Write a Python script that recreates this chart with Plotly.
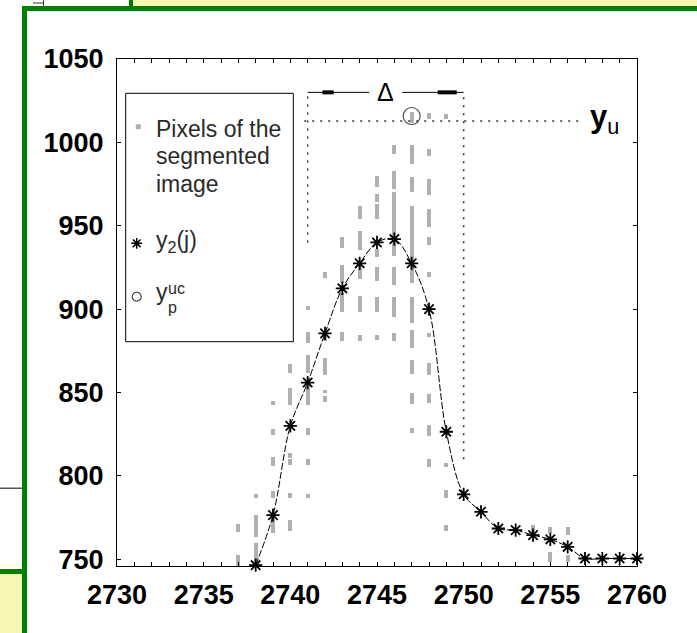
import plotly.graph_objects as go

# ---- data -------------------------------------------------------------
# y2(j): column-wise upper contour estimate
j_cols = [2738, 2739, 2740, 2741, 2742, 2743, 2744, 2745, 2746, 2747, 2748,
          2749, 2750, 2751, 2752, 2753, 2754, 2755, 2756, 2757, 2758, 2759, 2760]
y2_vals = [746.5, 776.5, 830, 856, 885.5, 912.5, 927.5, 940, 942, 927.5, 900,
           826.5, 789, 778.5, 768.5, 767.5, 764.5, 762, 757.5, 750.5, 750.5, 750.5, 750.5]

# segmented-image pixel runs: column, bottom edge, top edge
pix_col = [2737, 2737,
           2738, 2738, 2738,
           2739, 2739, 2739, 2739, 2739,
           2740, 2740, 2740, 2740, 2740, 2740,
           2741, 2741, 2741, 2741, 2741, 2741, 2741,
           2742, 2742, 2742, 2742, 2742,
           2743, 2743, 2743, 2743,
           2744, 2744, 2744, 2744, 2744,
           2745, 2745, 2745, 2745, 2745, 2745, 2745,
           2746, 2746, 2746, 2746, 2746, 2746,
           2747, 2747, 2747, 2747, 2747, 2747, 2747, 2747, 2747,
           2748, 2748, 2748, 2748, 2748, 2748, 2748, 2748, 2748, 2748, 2748,
           2749, 2749, 2749, 2749,
           2754,
           2755, 2755,
           2756, 2756]
pix_lo = [746, 766.5,
          746, 763.5, 786.5,
          765.5, 786.5, 806, 824.5, 842.5,
          767, 786.5, 806.5, 811, 842.5, 862,
          786.5, 806.5, 824.5, 842.5, 861.5, 879.5, 899.5,
          844.5, 849.5, 860.5, 881, 918.5,
          881, 898.5, 915.5, 936.5,
          881, 898.5, 918, 935.5, 954,
          881.5, 898.5, 917, 931, 954, 964.5, 973,
          881, 895.5, 914.5, 932, 972, 993,
          825.5, 843, 861, 876.5, 892, 915.5, 970, 987, 1011.5,
          805.5, 824, 843.5, 860.5, 883.3, 919, 938.5, 949.5, 968.5, 992, 1014,
          767, 786.5, 805.5, 1014,
          765.5,
          748.5, 766,
          748.5, 764.5]
pix_hi = [752.5, 771,
          760, 776.5, 789,
          775.5, 791, 811.5, 828, 845,
          773.5, 790, 810, 814, 852.5, 867,
          789, 810, 829, 857.5, 872.5, 886.5, 902,
          848, 851.5, 870.5, 886, 922.5,
          886.5, 909.5, 926.5, 943,
          884.5, 908, 926.5, 947, 962,
          884.5, 907.5, 925.5, 936, 963, 969, 980,
          885.5, 907.5, 925.5, 970, 983, 998.5,
          829, 849.5, 869.5, 887.5, 907.5, 962, 979, 998.5, 1018.5,
          810, 830.5, 849, 868, 885.7, 922.5, 943, 960, 978, 996, 1017.5,
          770.5, 791.5, 808, 1017,
          770.5,
          754.5, 769.5,
          752.5, 769.5]

# upper-contour point y_p^uc
ypuc_x = [2747]
ypuc_y = [1015.8]

# reference level y_u and the width Delta
yu_level = 1012.8
yu_x = [2740.8, 2756.8]
delta_left, delta_right = 2741, 2750
delta_y = 1030
left_guide_bottom = 940
right_guide_bottom = 810

x_ticks = [2730, 2735, 2740, 2745, 2750, 2755, 2760]
y_ticks = [750, 800, 850, 900, 950, 1000, 1050]

# ---- figure geometry (pixels) ----------------------------------------
W, H = 697, 633
L, R, T, B = 117, 637, 59, 566
GRAY = "#b0b0b0"
GREEN = "#008000"
YELLOW = "#f8f8b4"
FONT = "Liberation Sans, Arial, sans-serif"


def px(x):
    return (x - L) / (R - L)


def py(y):
    return (B - y) / (B - T)


fig = go.Figure()

fig.add_trace(go.Bar(
    x=pix_col,
    y=[h - l for l, h in zip(pix_lo, pix_hi)],
    base=pix_lo,
    width=0.24,
    marker=dict(color=GRAY, line=dict(width=0)),
    hoverinfo="skip",
    showlegend=False,
))

fig.add_trace(go.Scatter(
    x=j_cols, y=y2_vals, mode="lines+markers",
    line=dict(color="black", width=1, dash="7px,2px", shape="spline"),
    marker=dict(symbol="asterisk-open", size=11, color="black",
                line=dict(width=1.8, color="black")),
    cliponaxis=False, showlegend=False,
))

fig.add_trace(go.Scatter(
    x=ypuc_x, y=ypuc_y, mode="markers",
    marker=dict(symbol="circle-open", size=17, color="#444",
                line=dict(width=1.1, color="#444")),
    showlegend=False,
))

# dotted guides and the y_u level
dot = dict(color="#333", width=1.5, dash="2px,6px")
fig.add_trace(go.Scatter(x=yu_x, y=[yu_level, yu_level], mode="lines",
                         line=dot, showlegend=False, hoverinfo="skip"))
fig.add_trace(go.Scatter(x=[delta_left, delta_left], y=[left_guide_bottom, delta_y - 1],
                         mode="lines", line=dot, showlegend=False, hoverinfo="skip"))
fig.add_trace(go.Scatter(x=[delta_right, delta_right], y=[right_guide_bottom, delta_y - 1],
                         mode="lines", line=dot, showlegend=False, hoverinfo="skip"))

# Delta dimension line with arrow marks
delta_mid = (delta_left + delta_right) / 2
shapes = []
for x0, x1 in [(delta_left, delta_mid - 0.95), (delta_mid + 0.95, delta_right)]:
    shapes.append(dict(type="line", xref="x", yref="y", x0=x0, x1=x1,
                       y0=delta_y, y1=delta_y, line=dict(color="black", width=1)))
for x0, x1 in [(delta_left + 0.85, delta_left + 1.5), (delta_right - 1.5, delta_right - 0.4)]:
    shapes.append(dict(type="line", xref="x", yref="y", x0=x0, x1=x1,
                       y0=delta_y, y1=delta_y, line=dict(color="black", width=4)))

# legend box
shapes.append(dict(type="rect", xref="paper", yref="paper", layer="below",
                   x0=px(125.7), x1=px(293.3), y0=py(341.7), y1=py(93.3),
                   line=dict(color="black", width=1), fillcolor="white"))


# page frame around the figure
def prect(x0, y0, x1, y1, color):
    return dict(type="rect", xref="paper", yref="paper", layer="above",
                x0=px(x0), x1=px(x1), y0=py(y1), y1=py(y0),
                line=dict(width=0), fillcolor=color)


shapes += [
    prect(133, 0, 697, 6, YELLOW),
    prect(22, 6, 697, 11, GREEN),
    prect(129, 0, 133, 11, GREEN),
    prect(22, 6, 27, 633, GREEN),
    prect(0, 574, 22, 633, YELLOW),
    prect(0, 569, 22, 574, GREEN),
    prect(0, 564.5, 22, 565.5, YELLOW),
    prect(0, 487.5, 22, 489, "#555"),
    prect(33, 2.5, 43, 3.5, "#333"),
    prect(43, 0, 44, 6, "#333"),
]

# legend glyphs on a pixel-space overlay
fig.add_trace(go.Scatter(x=[138.3], y=[126.7], xaxis="x2", yaxis="y2", mode="markers",
                         marker=dict(symbol="square", size=5, color=GRAY),
                         showlegend=False, hoverinfo="skip"))
fig.add_trace(go.Scatter(x=[136.7], y=[243.3], xaxis="x2", yaxis="y2", mode="markers",
                         marker=dict(symbol="asterisk-open", size=9, color="black",
                                     line=dict(width=1.5, color="black")),
                         showlegend=False, hoverinfo="skip"))
fig.add_trace(go.Scatter(x=[136.7], y=[296.7], xaxis="x2", yaxis="y2", mode="markers",
                         marker=dict(symbol="circle-open", size=9, color="#333",
                                     line=dict(width=1.1, color="#333")),
                         showlegend=False, hoverinfo="skip"))


def note(x, y, text, size=23, color="#2a2a2a", xanchor="left"):
    return dict(xref="paper", yref="paper", x=px(x), y=py(y), text=text,
                showarrow=False, xanchor=xanchor, yanchor="middle",
                font=dict(family=FONT, size=size, color=color))


annotations = [
    note(154, 129, "Pixels of the"),
    note(154, 156, "segmented"),
    note(154, 184, "image"),
    note(154, 242, "y<sub>2</sub>(j)"),
    note(154, 292, "y"),
    note(166, 288, "uc", size=16),
    note(166, 307, "p", size=16),
    dict(xref="x", yref="y", x=delta_mid, y=delta_y + 0.5, text="Δ", showarrow=False,
         xanchor="center", yanchor="middle",
         font=dict(family=FONT, size=25, color="black")),
    dict(xref="x", yref="y", x=2757.2, y=yu_level + 1.5, text="<b>y</b><sub>u</sub>",
         showarrow=False, xanchor="left", yanchor="middle",
         font=dict(family=FONT, size=31, color="black")),
]

tickfont = dict(family=FONT, size=27, color="black", weight="bold")
axis_common = dict(showline=True, linecolor="black", linewidth=1, mirror="allticks",
                   ticks="inside", ticklen=4, tickcolor="black", showgrid=False,
                   zeroline=False, tickfont=tickfont)

fig.update_layout(
    width=W, height=H,
    margin=dict(l=L, r=W - R, t=T, b=H - B, pad=0),
    paper_bgcolor="white", plot_bgcolor="white",
    barmode="overlay", bargap=0,
    xaxis=dict(range=[2730, 2760], tickvals=x_ticks, ticklabelstandoff=5,
               minor=dict(dtick=1, tick0=2730, ticks="inside", ticklen=4, tickcolor="black"),
               **axis_common),
    yaxis=dict(range=[746, 1050], tickvals=y_ticks, ticklabelstandoff=7, **axis_common),
    xaxis2=dict(overlaying="x", range=[L, R], visible=False),
    yaxis2=dict(overlaying="y", range=[B, T], visible=False),
    shapes=shapes,
    annotations=annotations,
)

fig.write_html("out.html")
